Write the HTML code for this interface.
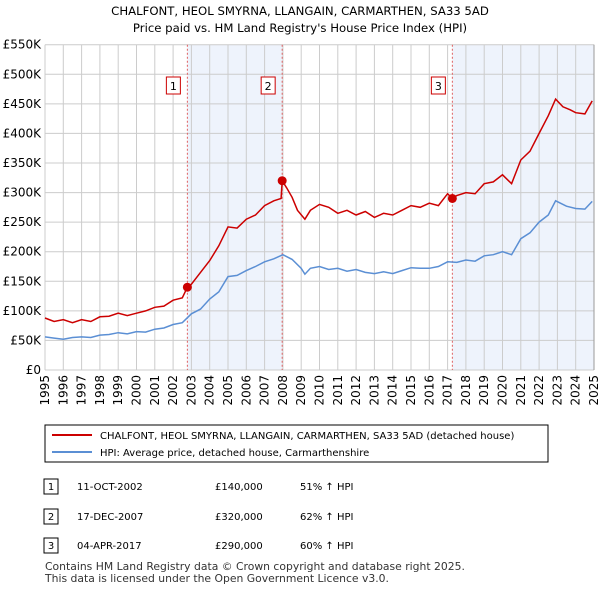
<!DOCTYPE html>
<html><head><meta charset="utf-8"><style>
body{margin:0;background:#fff;font-family:"DejaVu Sans",sans-serif;}
svg text{font-family:"DejaVu Sans","Liberation Sans",sans-serif;}
</style></head><body>
<svg id="c" width="600" height="590" viewBox="0 0 600 590" xmlns="http://www.w3.org/2000/svg">
<text x="300" y="15" text-anchor="middle" font-size="11.7" fill="#000">CHALFONT, HEOL SMYRNA, LLANGAIN, CARMARTHEN, SA33 5AD</text>
<text x="300" y="32" text-anchor="middle" font-size="11.7" fill="#000">Price paid vs. HM Land Registry's House Price Index (HPI)</text>
<g id="plot"></g>
<g>
<rect x="45" y="425" width="503" height="37" fill="#fff" stroke="#000" stroke-width="1"/>
<line x1="52" y1="435" x2="92" y2="435" stroke="#cc0000" stroke-width="2"/>
<text x="100" y="439" font-size="10">CHALFONT, HEOL SMYRNA, LLANGAIN, CARMARTHEN, SA33 5AD (detached house)</text>
<line x1="52" y1="452" x2="92" y2="452" stroke="#5b8fd4" stroke-width="2"/>
<text x="100" y="456" font-size="10">HPI: Average price, detached house, Carmarthenshire</text>
</g>
<g font-size="10">
<rect x="44" y="479" width="14" height="15" fill="#fff" stroke="#000"/><text x="51" y="490" text-anchor="middle">1</text>
<text x="77" y="490">11-OCT-2002</text><text x="215" y="490">£140,000</text><text x="300" y="490">51% ↑ HPI</text>
<rect x="44" y="509" width="14" height="15" fill="#fff" stroke="#000"/><text x="51" y="520" text-anchor="middle">2</text>
<text x="77" y="520">17-DEC-2007</text><text x="215" y="520">£320,000</text><text x="300" y="520">62% ↑ HPI</text>
<rect x="44" y="538" width="14" height="15" fill="#fff" stroke="#000"/><text x="51" y="549" text-anchor="middle">3</text>
<text x="77" y="549">04-APR-2017</text><text x="215" y="549">£290,000</text><text x="300" y="549">60% ↑ HPI</text>
</g>
<text x="45" y="570" font-size="10.8" fill="#333">Contains HM Land Registry data © Crown copyright and database right 2025.</text>
<text x="45" y="582" font-size="10.8" fill="#333">This data is licensed under the Open Government Licence v3.0.</text>
</svg>
<script>
const hpiYears=[1995,1995.5,1996,1996.5,1997,1997.5,1998,1998.5,1999,1999.5,2000,2000.5,2001,2001.5,2002,2002.5,2003,2003.5,2004,2004.5,2005,2005.5,2006,2006.5,2007,2007.5,2008,2008.5,2009,2009.2,2009.5,2010,2010.5,2011,2011.5,2012,2012.5,2013,2013.5,2014,2014.5,2015,2015.5,2016,2016.5,2017,2017.5,2018,2018.5,2019,2019.5,2020,2020.5,2021,2021.5,2022,2022.5,2022.9,2023.5,2024,2024.5,2024.9];
const hpiValues=[56,54,52,55,56,55,59,60,63,61,65,64,69,71,77,80,95,103,120,132,158,160,168,175,183,188,195,187,172,162,172,175,170,172,167,170,165,163,166,163,168,173,172,172,175,183,182,186,184,193,195,200,195,222,232,250,262,286,277,273,272,285];
const priceYears=[1995,1995.5,1996,1996.5,1997,1997.5,1998,1998.5,1999,1999.5,2000,2000.5,2001,2001.5,2002,2002.5,2002.78,2003,2003.5,2004,2004.5,2005,2005.5,2006,2006.5,2007,2007.5,2007.9,2007.96,2008.2,2008.5,2008.8,2009.2,2009.5,2010,2010.5,2011,2011.5,2012,2012.5,2013,2013.5,2014,2014.5,2015,2015.5,2016,2016.5,2017,2017.26,2017.5,2018,2018.5,2019,2019.5,2020,2020.5,2021,2021.5,2022,2022.5,2022.9,2023.3,2023.7,2024,2024.5,2024.9];
const priceValues=[88,82,85,80,85,82,90,91,96,92,96,100,106,108,118,122,140,145,165,185,210,242,240,255,262,278,286,290,320,308,292,270,255,270,280,275,265,270,262,268,258,265,262,270,278,275,282,278,298,290,295,300,298,315,318,330,315,355,370,400,430,458,445,440,435,433,455];
const saleYears=[2002.78,2007.96,2017.26];
const saleValues=[140,320,290];
const saleLabels=["1","2","3"];
const yTicks=[0,50,100,150,200,250,300,350,400,450,500,550];
const yTickLabels=["£0","£50K","£100K","£150K","£200K","£250K","£300K","£350K","£400K","£450K","£500K","£550K"];
const xTicks=[1995,1996,1997,1998,1999,2000,2001,2002,2003,2004,2005,2006,2007,2008,2009,2010,2011,2012,2013,2014,2015,2016,2017,2018,2019,2020,2021,2022,2023,2024,2025];

const L=45,R=594,T=44.7,B=370;
const x=v=>L+(v-1995)/30*(R-L);
const y=v=>B-v/550*(B-T);
const NS="http://www.w3.org/2000/svg";
const g=document.getElementById('plot');
function mk(t,a){const e=document.createElementNS(NS,t);for(const k in a)e.setAttribute(k,a[k]);g.appendChild(e);return e;}
let e;
e=mk('rect',{x:L,y:T,width:R-L,height:B-T,fill:'#fff'});


e=mk('rect',{x:x(saleYears[0]),y:T,width:x(saleYears[1])-x(saleYears[0]),height:B-T,fill:'#eef3fc'});


e=mk('rect',{x:x(saleYears[2]),y:T,width:R-x(saleYears[2]),height:B-T,fill:'#eef3fc'});


yTicks.forEach((t,i)=>{
 e=mk('line',{x1:L,x2:R,y1:y(t),y2:y(t),stroke:'#cccccc','stroke-width':1});
 
 
 e=mk('text',{x:L-4,y:y(t)+4,'text-anchor':'end','font-size':12});
 e.textContent=yTickLabels[i];
 
 
});
xTicks.forEach(t=>{
 e=mk('line',{x1:x(t),x2:x(t),y1:T,y2:B,stroke:'#cccccc','stroke-width':1});
 
 
 e=mk('text',{x:0,y:0,'font-size':12,'text-anchor':'end',transform:`translate(${x(t)+4},${B+5}) rotate(-90)`});
 e.textContent=t;
 
 
});
mk('line',{x1:R,x2:R,y1:T,y2:B,stroke:'#999','stroke-width':1});
saleYears.forEach((s,i)=>{
 e=mk('line',{x1:x(s),x2:x(s),y1:T,y2:B,stroke:'#e06060','stroke-width':1,'stroke-dasharray':'2,2'});
 
 
 e=mk('rect',{x:x(s)-21,y:77,width:14,height:17,fill:'#fff',stroke:'#cc0000','stroke-width':1});
 
 
 e=mk('text',{x:x(s)-14,y:90,'text-anchor':'middle','font-size':11});
 e.textContent=saleLabels[i];
 
 
});
function path(xs,vs){return xs.map((v,i)=>(i?'L':'M')+x(v).toFixed(1)+','+y(vs[i]).toFixed(1)).join('');}
e=mk('path',{d:path(hpiYears,hpiValues),fill:'none',stroke:'#5b8fd4','stroke-width':1.5});


e=mk('path',{d:path(priceYears,priceValues),fill:'none',stroke:'#cc0000','stroke-width':1.5});


saleYears.forEach((s,i)=>{
 e=mk('circle',{cx:x(s),cy:y(saleValues[i]),r:4.5,fill:'#cc0000'});
 
 
});
</script>
</body></html>
